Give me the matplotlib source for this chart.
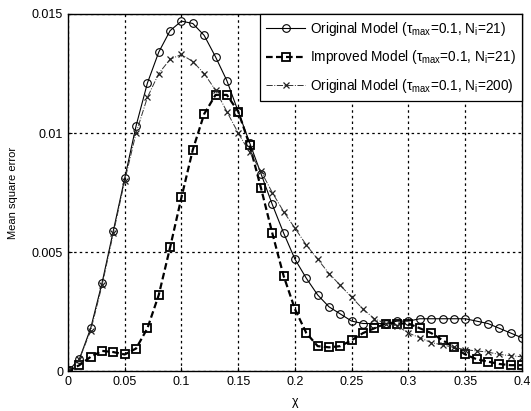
import numpy as np
import matplotlib
matplotlib.use("Agg")
import matplotlib.pyplot as plt

plt.rcParams['font.family'] = ['Liberation Sans', 'DejaVu Sans']
plt.rcParams['mathtext.default'] = 'regular'

chi = [round(0.01 * i, 2) for i in range(41)]

orig_n21 = [0.0, 0.0005, 0.0018, 0.0037, 0.0059, 0.0081, 0.0103, 0.0121, 0.0134, 0.0143,
            0.0147, 0.0146, 0.0141, 0.0132, 0.0122, 0.0109, 0.0096, 0.0083, 0.0070, 0.0058,
            0.0047, 0.0039, 0.0032, 0.0027, 0.0024, 0.0021, 0.0020, 0.0020, 0.0020, 0.0021,
            0.0021, 0.0022, 0.0022, 0.0022, 0.0022, 0.0022, 0.0021, 0.0020, 0.0018, 0.0016,
            0.0014]

improved_n21 = [0.0, 0.00025, 0.0006, 0.00085, 0.0008, 0.0007, 0.00095, 0.0018, 0.0032, 0.0052,
                0.0073, 0.0093, 0.0108, 0.0116, 0.0116, 0.0109, 0.0095, 0.0077, 0.0058, 0.0040,
                0.0026, 0.0016, 0.00105, 0.0010, 0.00105, 0.0013, 0.0016, 0.0018, 0.0020, 0.0020,
                0.0020, 0.0018, 0.0016, 0.0013, 0.0010, 0.0007, 0.0005, 0.0004, 0.0003, 0.00025,
                0.00025]

orig_n200 = [0.0, 0.0005, 0.0017, 0.0036, 0.0058, 0.0080, 0.0100, 0.0115, 0.0125, 0.0131,
             0.0133, 0.0130, 0.0125, 0.0118, 0.0109, 0.0100, 0.0092, 0.0084, 0.0075, 0.0067,
             0.0060, 0.0053, 0.0047, 0.0041, 0.0036, 0.0031, 0.0026, 0.0022, 0.0020, 0.0019,
             0.0016, 0.0014, 0.0012, 0.0011, 0.0010, 0.0009, 0.00085, 0.0008, 0.0007, 0.00065,
             0.0006]

labels = ['Original Model (τ$_{max}$=0.1, N$_i$=21)',
          'Improved Model (τ$_{max}$=0.1, N$_i$=21)',
          'Original Model (τ$_{max}$=0.1, N$_i$=200)']

xticks = [0, 0.05, 0.1, 0.15, 0.2, 0.25, 0.3, 0.35, 0.4]
xticklabels = ['0', '0.05', '0.1', '0.15', '0.2', '0.25', '0.3', '0.35', '0.4']
yticks = [0, 0.005, 0.01, 0.015]
yticklabels = ['0', '0.005', '0.01', '0.015']

fig = plt.figure(figsize=(5.31, 4.11), dpi=100)
ax = fig.add_axes([0.128, 0.097, 0.855, 0.869])

ax.plot(chi, orig_n21, '-', color='black', lw=0.8, marker='o', ms=5.5,
        mfc='none', mec='black', mew=0.8, label=labels[0])
ax.plot(chi, improved_n21, '--', color='black', lw=1.6, marker='s', ms=6,
        mfc='none', mec='black', mew=1.3, label=labels[1], dashes=(3, 1.5))
ax.plot(chi, orig_n200, '-.', color='#333333', lw=0.7, marker='x', ms=4.5,
        mec='#222222', mew=0.9, label=labels[2])

ax.set_xlim(0, 0.4)
ax.set_ylim(0, 0.015)
ax.set_xticks(xticks)
ax.set_xticklabels(xticklabels)
ax.set_yticks(yticks)
ax.set_yticklabels(yticklabels)
ax.tick_params(direction='in', length=3, labelsize=9, color='black')
ax.grid(True, linestyle=(0, (2, 2.5)), color='black', lw=0.9)
for s in ax.spines.values():
    s.set_linewidth(1.0)

ax.set_xlabel('χ', fontsize=9, labelpad=6)
ax.set_ylabel('Mean square error', fontsize=8, labelpad=10)

leg = ax.legend(loc='upper right', fontsize=9.8, frameon=True, fancybox=False,
                edgecolor='black', framealpha=1, borderaxespad=0.0,
                handlelength=2.9, borderpad=0.45, labelspacing=0.75, handletextpad=0.35)
leg.get_frame().set_linewidth(0.9)

fig.savefig('out.png', dpi=100)
